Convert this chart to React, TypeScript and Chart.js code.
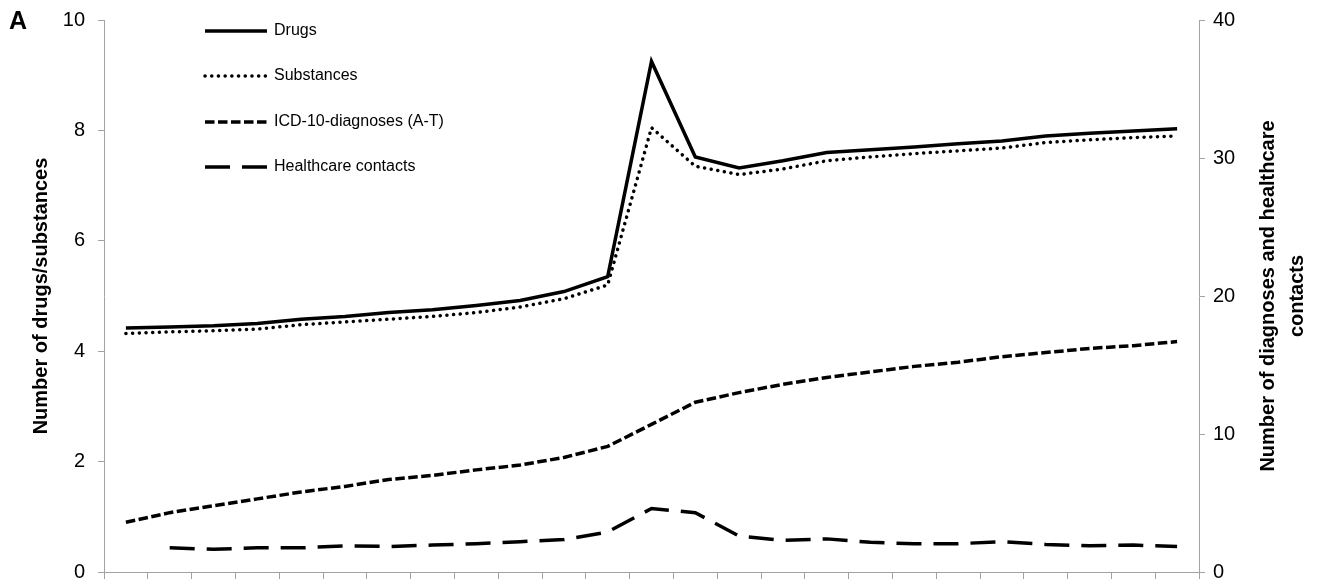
import React, { useEffect, useRef } from "react";
import { Chart, registerables } from "chart.js";

Chart.register(...registerables);

const categories = ["1","2","3","4","5","6","7","8","9","10","11","12","13","14","15","16","17","18","19","20","21","22","23","24","25"];

const drugs = [4.42, 4.44, 4.46, 4.5, 4.58, 4.63, 4.7, 4.75, 4.83, 4.92, 5.08, 5.35, 9.25, 7.52, 7.32, 7.45, 7.6, 7.65, 7.7, 7.76, 7.81, 7.9, 7.95, 7.99, 8.03];
const substances = [4.32, 4.35, 4.37, 4.4, 4.48, 4.53, 4.58, 4.63, 4.7, 4.8, 4.95, 5.2, 8.05, 7.35, 7.2, 7.3, 7.45, 7.52, 7.58, 7.63, 7.68, 7.78, 7.83, 7.87, 7.9];
const diagnoses = [3.6, 4.3, 4.8, 5.3, 5.8, 6.2, 6.7, 7.0, 7.4, 7.75, 8.3, 9.1, 10.7, 12.3, 13.0, 13.6, 14.1, 14.5, 14.9, 15.2, 15.6, 15.9, 16.2, 16.4, 16.7];
const contacts = [null, 1.75, 1.65, 1.75, 1.75, 1.9, 1.85, 1.95, 2.05, 2.2, 2.35, 2.9, 4.6, 4.3, 2.6, 2.3, 2.4, 2.15, 2.05, 2.05, 2.2, 2.0, 1.9, 1.95, 1.85];

const seriesLabels = ["Drugs", "Substances", "ICD-10-diagnoses (A-T)", "Healthcare contacts"];
const leftTicks = [0, 2, 4, 6, 8, 10];
const rightTicks = [0, 10, 20, 30, 40];

const FONT = '"Liberation Sans", Arial, sans-serif';
const AXIS_COLOR = "#a3a3a3";

const overlay = {
  id: "overlay",
  afterDraw(chart: any) {
    const ctx = chart.ctx;
    const area = chart.chartArea;
    const cy = (area.top + area.bottom) / 2;
    ctx.save();
    ctx.fillStyle = "#000";
    ctx.textBaseline = "middle";
    ctx.textAlign = "left";
    ctx.font = `bold 25px ${FONT}`;
    ctx.fillText("A", 9, 22);

    ctx.font = `bold 20px ${FONT}`;
    ctx.save();
    ctx.translate(41, cy);
    ctx.rotate(-Math.PI / 2);
    ctx.textAlign = "center";
    ctx.fillText("Number of drugs/substances", 0, 0);
    ctx.restore();

    ctx.save();
    ctx.translate(1268, cy);
    ctx.rotate(-Math.PI / 2);
    ctx.textAlign = "center";
    ctx.fillText("Number of diagnoses and healthcare", 0, 0);
    ctx.fillText("contacts", 0, 29);
    ctx.restore();

    const rows = [31, 76, 122, 167];
    ctx.font = `16px ${FONT}`;
    chart.data.datasets.forEach((ds: any, i: number) => {
      const y = rows[i];
      ctx.save();
      ctx.strokeStyle = "#000";
      ctx.lineWidth = ds.borderWidth;
      ctx.lineCap = ds.borderCapStyle || "butt";
      ctx.setLineDash(ds.borderDash || []);
      ctx.beginPath();
      ctx.moveTo(205, y);
      ctx.lineTo(267, y);
      ctx.stroke();
      ctx.restore();
      ctx.fillText(ds.label, 274, y);
    });
    ctx.restore();
  },
};

export default function App() {
  const ref = useRef<HTMLCanvasElement>(null);
  useEffect(() => {
    document.body.style.margin = "0";
    const chart = new Chart(ref.current as HTMLCanvasElement, {
      type: "line",
      data: {
        labels: categories,
        datasets: [
          { label: seriesLabels[0], data: drugs, yAxisID: "y", borderColor: "#000", borderWidth: 3.5, pointRadius: 0, tension: 0, borderCapStyle: "butt" },
          { label: seriesLabels[1], data: substances, yAxisID: "y", borderColor: "#000", borderWidth: 3.5, pointRadius: 0, tension: 0, borderCapStyle: "round", borderDash: [0.1, 6.6] },
          { label: seriesLabels[2], data: diagnoses, yAxisID: "y1", borderColor: "#000", borderWidth: 3.5, pointRadius: 0, tension: 0, borderCapStyle: "butt", borderDash: [9.5, 3.5] },
          { label: seriesLabels[3], data: contacts, yAxisID: "y1", borderColor: "#000", borderWidth: 3.5, pointRadius: 0, tension: 0, borderCapStyle: "butt", borderDash: [25, 12], spanGaps: false },
        ] as any,
      },
      options: {
        animation: false,
        responsive: false,
        layout: { padding: { top: 20, left: 0, right: 0, bottom: 0 } },
        plugins: { legend: { display: false }, tooltip: { enabled: false } },
        scales: {
          x: {
            type: "category",
            offset: true,
            grid: { display: true, offset: true, drawOnChartArea: false, drawTicks: true, tickLength: 7, color: AXIS_COLOR },
            border: { color: AXIS_COLOR, width: 1 },
            ticks: { display: false },
            afterFit(scale: any) { scale.height = 16; scale.paddingLeft = 0; scale.paddingRight = 0; },
          },
          y: {
            position: "left",
            min: 0,
            max: 10,
            afterBuildTicks(scale: any) { scale.ticks = leftTicks.map((v) => ({ value: v })); },
            grid: { drawOnChartArea: false, tickLength: 6, color: AXIS_COLOR },
            border: { color: AXIS_COLOR, width: 1 },
            ticks: { color: "#000", padding: 13, font: { family: FONT, size: 20 } },
            afterFit(scale: any) { scale.width = 104; scale.paddingTop = 0; scale.paddingBottom = 0; },
          },
          y1: {
            position: "right",
            min: 0,
            max: 40,
            afterBuildTicks(scale: any) { scale.ticks = rightTicks.map((v) => ({ value: v })); },
            grid: { drawOnChartArea: false, tickLength: 6, color: AXIS_COLOR },
            border: { color: AXIS_COLOR, width: 1 },
            ticks: { color: "#000", padding: 8, font: { family: FONT, size: 20 } },
            afterFit(scale: any) { scale.width = 118; scale.paddingTop = 0; scale.paddingBottom = 0; },
          },
        },
      } as any,
      plugins: [overlay],
    });
    return () => chart.destroy();
  }, []);
  return <canvas ref={ref} width={1317} height={588} style={{ display: "block" }} />;
}
